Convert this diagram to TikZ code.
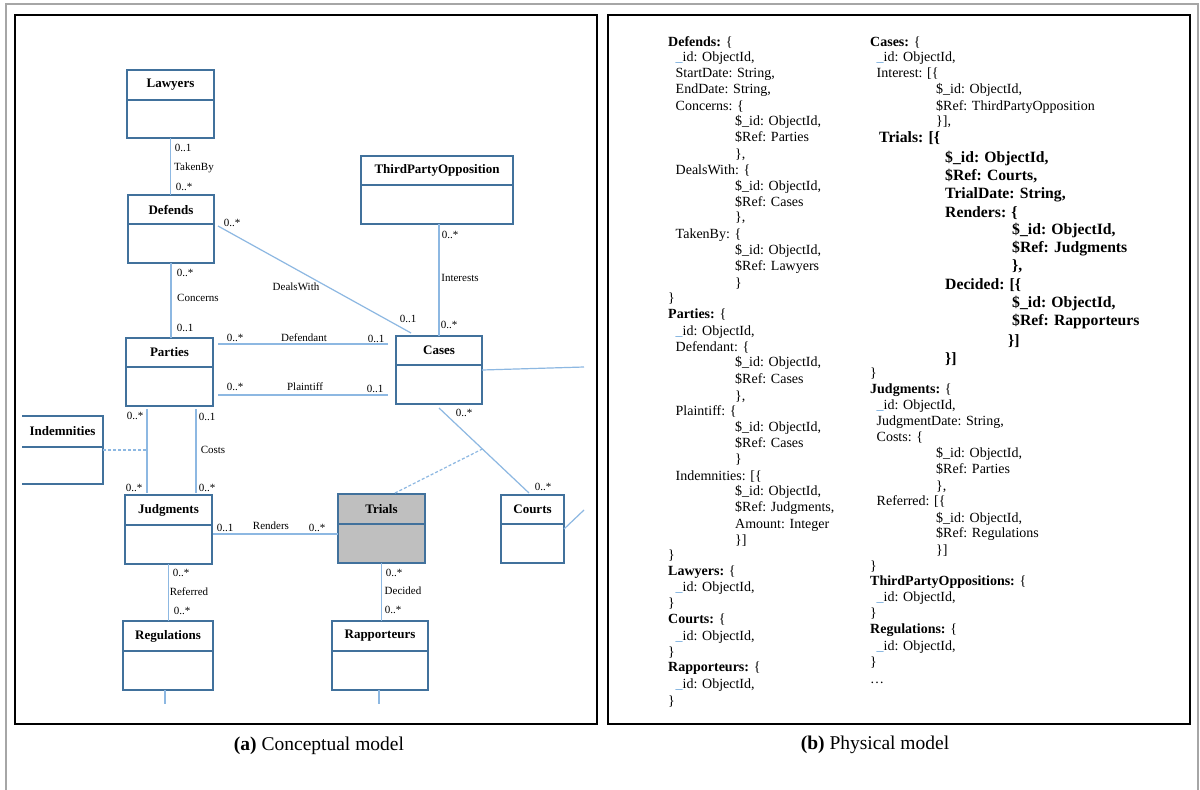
\documentclass[tikz,border=0pt]{standalone}
\usepackage{fontspec}
\setmainfont{Liberation Serif}
\usetikzlibrary{calc}
\definecolor{boxblue}{HTML}{41719C}
\definecolor{linkblue}{HTML}{8DB8E2}
\definecolor{trialgray}{HTML}{BFBFBF}
\definecolor{ublue}{HTML}{5B9BD5}
\definecolor{framegray}{HTML}{A6A6A6}
\newcounter{cln}
\newcommand\regl[3]{\stepcounter{cln}\node[codetext] (code\arabic{cln}) at (#1,{#2+5}) {#3};}
\newcommand\boldl[3]{\stepcounter{cln}\node[codebold] (code\arabic{cln}) at (#1,{#2+5.5}) {#3};}
\newcommand\uid{\textcolor{ublue}{\_}id: ObjectId,}
\newcommand\sid{\$\_id: ObjectId,}
\newcommand\umlbox[8]{%
  \pgfmathsetmacro\bw{#4-#2}\pgfmathsetmacro\bh{#5-#3}%
  \node[ubox,#8,minimum width=\bw pt,minimum height=\bh pt,anchor=north west] (#1) at (#2,#3) {};
  \draw[ubord] (#2,#6) -- (#4,#6);
  \node[utitle] (#1-t) at ({(#2+#4)/2},{(#3+#6)/2}) {#7};
}
\begin{document}
\begin{tikzpicture}[x=1pt,y=-1pt,
  ubox/.style={draw=boxblue,line width=2pt,inner sep=0pt,outer sep=0pt},
  ubord/.style={draw=boxblue,line width=2pt},
  utitle/.style={font=\fontsize{13}{15}\selectfont\bfseries,inner sep=0pt},
  link/.style={draw=linkblue,line width=1.2pt},
  dlink/.style={draw=linkblue,line width=1.2pt,dash pattern=on 3pt off 2pt},
  lbl/.style={font=\fontsize{11}{13}\selectfont,inner sep=0pt},
  codetext/.style={anchor=base west,inner sep=0pt,font=\fontsize{14}{16}\selectfont},
  codebold/.style={anchor=base west,inner sep=0pt,font=\fontsize{15.7}{18}\selectfont\bfseries},
  captext/.style={font=\fontsize{19.5}{22}\selectfont,inner sep=0pt}]
\useasboundingbox (0,0) rectangle (1200,790);
\fill[white] (0,0) rectangle (1200,790);
% outer frame and panels
\draw[framegray,line width=1.5pt] (6,795) -- (6,4) -- (1198,4) -- (1198,795);
\draw[line width=2.5pt] (15,15) rectangle (597,724);
\draw[line width=2.5pt] (608,15) rectangle (1190,724);

% ---------------- conceptual model ----------------
\umlbox{lawyers}{127}{70}{214}{138}{100}{Lawyers}{}
\umlbox{defends}{128}{195}{214}{263}{224}{Defends}{}
\umlbox{tpo}{361}{156}{513}{224}{185}{ThirdPartyOpposition}{}
\umlbox{parties}{126}{338}{213}{406}{367}{Parties}{}
\umlbox{cases}{396}{336}{482}{404}{365}{Cases}{}
\umlbox{judgments}{125}{495}{212}{564}{525}{Judgments}{}
\umlbox{trials}{338}{494}{425}{563}{524}{Trials}{fill=trialgray}
\umlbox{courts}{501}{495}{564}{563}{524}{Courts}{}
\umlbox{regulations}{123}{621}{213}{690}{651}{Regulations}{}
\umlbox{rapporteurs}{332}{621}{428}{690}{651}{Rapporteurs}{}
% Indemnities (cut at the left)
\umlbox{indem}{22}{416}{103}{484}{447}{Indemnities}{draw=none}
\draw[ubord] (indem.north west) -- (indem.north east) -- (indem.south east) -- (indem.south west);

% connectors
\draw[link] (lawyers.south) -- (lawyers.south |- defends.north);
\draw[link] (defends.south) -- (defends.south |- parties.north);
\draw[link] ($(defends.east)+(4,-3)$) -- ($(cases.north west)+(15,-3)$);
\draw[link] (tpo.south -| cases.north) -- (cases.north);
\draw[link] ($(parties.north east)+(5,6)$) -- ($(cases.north west)+(-8,8)$);
\draw[link] ($(parties.north east)+(5,57)$) -- ($(cases.north west)+(-8,59)$);
\coordinate (casesR) at (584,367);
\draw[link] (cases.east) -- (casesR);
\coordinate (pjA) at ($(parties.south west)+(21,3)$);
\draw[link] (pjA) -- ($(judgments.north west)+(22,-2)$);
\draw[link] ($(parties.south west)+(70,3)$) -- ($(judgments.north west)+(71,-2)$);
\draw[dlink] (indem.east) -- (indem.east -| pjA);
\coordinate (ccA) at ($(cases.south)+(0,4)$);
\coordinate (ccB) at ($(courts.north)+(-3.5,-2)$);
\draw[link] (ccA) -- (ccB);
\draw[dlink] ($(trials.north)+(13.5,-1)$) -- ($(ccA)!0.482!(ccB)$);
\coordinate (courtsR) at (584,510);
\draw[link] (courts.east) -- (courtsR);
\coordinate (rendA) at ($(judgments.east)+(1,4.5)$);
\draw[link] (rendA) -- (rendA -| trials.west);
\draw[link] (judgments.south) -- (judgments.south |- regulations.north);
\draw[link] (trials.south) -- (trials.south |- rapporteurs.north);
\coordinate (regB) at (165,704);
\coordinate (rapB) at (379,704);
\draw[link] (regulations.south -| regB) -- (regB);
\draw[link] (rapporteurs.south -| rapB) -- (rapB);

% connector labels
\node[lbl] (m1) at (183,148) {0..1};
\node[lbl] (l1) at (194,168) {TakenBy};
\node[lbl] (m2) at (184,187) {0..*};
\node[lbl] (m3) at (232,223) {0..*};
\node[lbl] (m4) at (185,273) {0..*};
\node[lbl] (l2) at (198,298) {Concerns};
\node[lbl] (m5) at (185,328) {0..1};
\node[lbl] (l3) at (296,287) {DealsWith};
\node[lbl] (m6) at (408,319) {0..1};
\node[lbl] (m7) at (450,235) {0..*};
\node[lbl] (l4) at (460,278) {Interests};
\node[lbl] (m8) at (449,325) {0..*};
\node[lbl] (m9) at (235,338) {0..*};
\node[lbl] (l5) at (304,338) {Defendant};
\node[lbl] (m10) at (376,339) {0..1};
\node[lbl] (m11) at (235,387) {0..*};
\node[lbl] (l6) at (305,387) {Plaintiff};
\node[lbl] (m12) at (375,389) {0..1};
\node[lbl] (m13) at (135,416) {0..*};
\node[lbl] (m14) at (207,417) {0..1};
\node[lbl] (l7) at (213,450) {Costs};
\node[lbl] (m15) at (134,488) {0..*};
\node[lbl] (m16) at (207,488) {0..*};
\node[lbl] (m17) at (464,413) {0..*};
\node[lbl] (m18) at (543,487) {0..*};
\node[lbl] (m19) at (225,528) {0..1};
\node[lbl] (l8) at (271,526) {Renders};
\node[lbl] (m20) at (317,528) {0..*};
\node[lbl] (m21) at (181,573) {0..*};
\node[lbl] (l9) at (189,592) {Referred};
\node[lbl] (m22) at (182,611) {0..*};
\node[lbl] (m23) at (394,573) {0..*};
\node[lbl] (l10) at (403,591) {Decided};
\node[lbl] (m24) at (393,610) {0..*};

% ---------------- physical model ----------------
\regl{668}{41.7}{\textbf{Defends:} \{}
\regl{675.5}{56.7}{\uid}
\regl{675.5}{72.7}{StartDate: String,}
\regl{675.5}{88.3}{EndDate: String,}
\regl{675.5}{105}{Concerns: \{}
\regl{735}{120.7}{\sid}
\regl{735}{136.7}{\$Ref: Parties}
\regl{735}{153.3}{\},}
\regl{675.5}{169}{DealsWith: \{}
\regl{735}{185}{\sid}
\regl{735}{201}{\$Ref: Cases}
\regl{735}{216.7}{\},}
\regl{675.5}{233.3}{TakenBy: \{}
\regl{735}{249.3}{\sid}
\regl{735}{265.7}{\$Ref: Lawyers}
\regl{735}{282.7}{\}}
\regl{668}{297.7}{\}}
\regl{668}{313.3}{\textbf{Parties:} \{}
\regl{675.5}{330}{\uid}
\regl{675.5}{346}{Defendant: \{}
\regl{735}{361.7}{\sid}
\regl{735}{378}{\$Ref: Cases}
\regl{735}{395}{\},}
\regl{675.5}{410}{Plaintiff: \{}
\regl{735}{426.7}{\sid}
\regl{735}{442.7}{\$Ref: Cases}
\regl{735}{458.3}{\}}
\regl{675.5}{475}{Indemnities: [\{}
\regl{735}{490.7}{\sid}
\regl{735}{506.7}{\$Ref: Judgments,}
\regl{735}{523.3}{Amount: Integer}
\regl{735}{539}{\}]}
\regl{668}{554.3}{\}}
\regl{668}{570}{\textbf{Lawyers:} \{}
\regl{675.5}{586.7}{\uid}
\regl{668}{602.3}{\}}
\regl{668}{618.3}{\textbf{Courts:} \{}
\regl{675.5}{635}{\uid}
\regl{668}{651}{\}}
\regl{668}{666.7}{\textbf{Rapporteurs:} \{}
\regl{675.5}{683.3}{\uid}
\regl{668}{700}{\}}

\regl{870}{41.7}{\textbf{Cases:} \{}
\regl{876.5}{56.7}{\uid}
\regl{876.5}{72.7}{Interest: [\{}
\regl{936}{88.3}{\sid}
\regl{936}{105}{\$Ref: ThirdPartyOpposition}
\regl{936}{120.7}{\}],}
\boldl{879}{136.7}{Trials: [\{}
\boldl{945}{156.7}{\sid}
\boldl{945}{175}{\$Ref: Courts,}
\boldl{945}{193.3}{TrialDate: String,}
\boldl{945}{211.7}{Renders: \{}
\boldl{1012}{229.3}{\sid}
\boldl{1012}{247.3}{\$Ref: Judgments}
\boldl{1012}{265}{\},}
\boldl{945}{284}{Decided: [\{}
\boldl{1012}{301.7}{\sid}
\boldl{1012}{320}{\$Ref: Rapporteurs}
\boldl{1008}{340}{\}]}
\boldl{945}{358}{\}]}
\regl{870}{372}{\}}
\regl{870}{388.3}{\textbf{Judgments:} \{}
\regl{876.5}{404.7}{\uid}
\regl{876.5}{420.3}{JudgmentDate: String,}
\regl{876.5}{436.7}{Costs: \{}
\regl{936}{452.3}{\sid}
\regl{936}{468.3}{\$Ref: Parties}
\regl{936}{485}{\},}
\regl{876.5}{500.7}{Referred: [\{}
\regl{936}{517.3}{\sid}
\regl{936}{532.3}{\$Ref: Regulations}
\regl{936}{549}{\}]}
\regl{870}{565}{\}}
\regl{870}{580.7}{\textbf{ThirdPartyOppositions:} \{}
\regl{876.5}{596.7}{\uid}
\regl{870}{612.3}{\}}
\regl{870}{628.3}{\textbf{Regulations:} \{}
\regl{876.5}{645}{\uid}
\regl{870}{661}{\}}
\regl{870}{678}{\ldots}

% captions
\node[captext] (capA) at (319,746) {\textbf{(a)} Conceptual model};
\node[captext] (capB) at (875,745) {\textbf{(b)} Physical model};
\end{tikzpicture}
\end{document}
